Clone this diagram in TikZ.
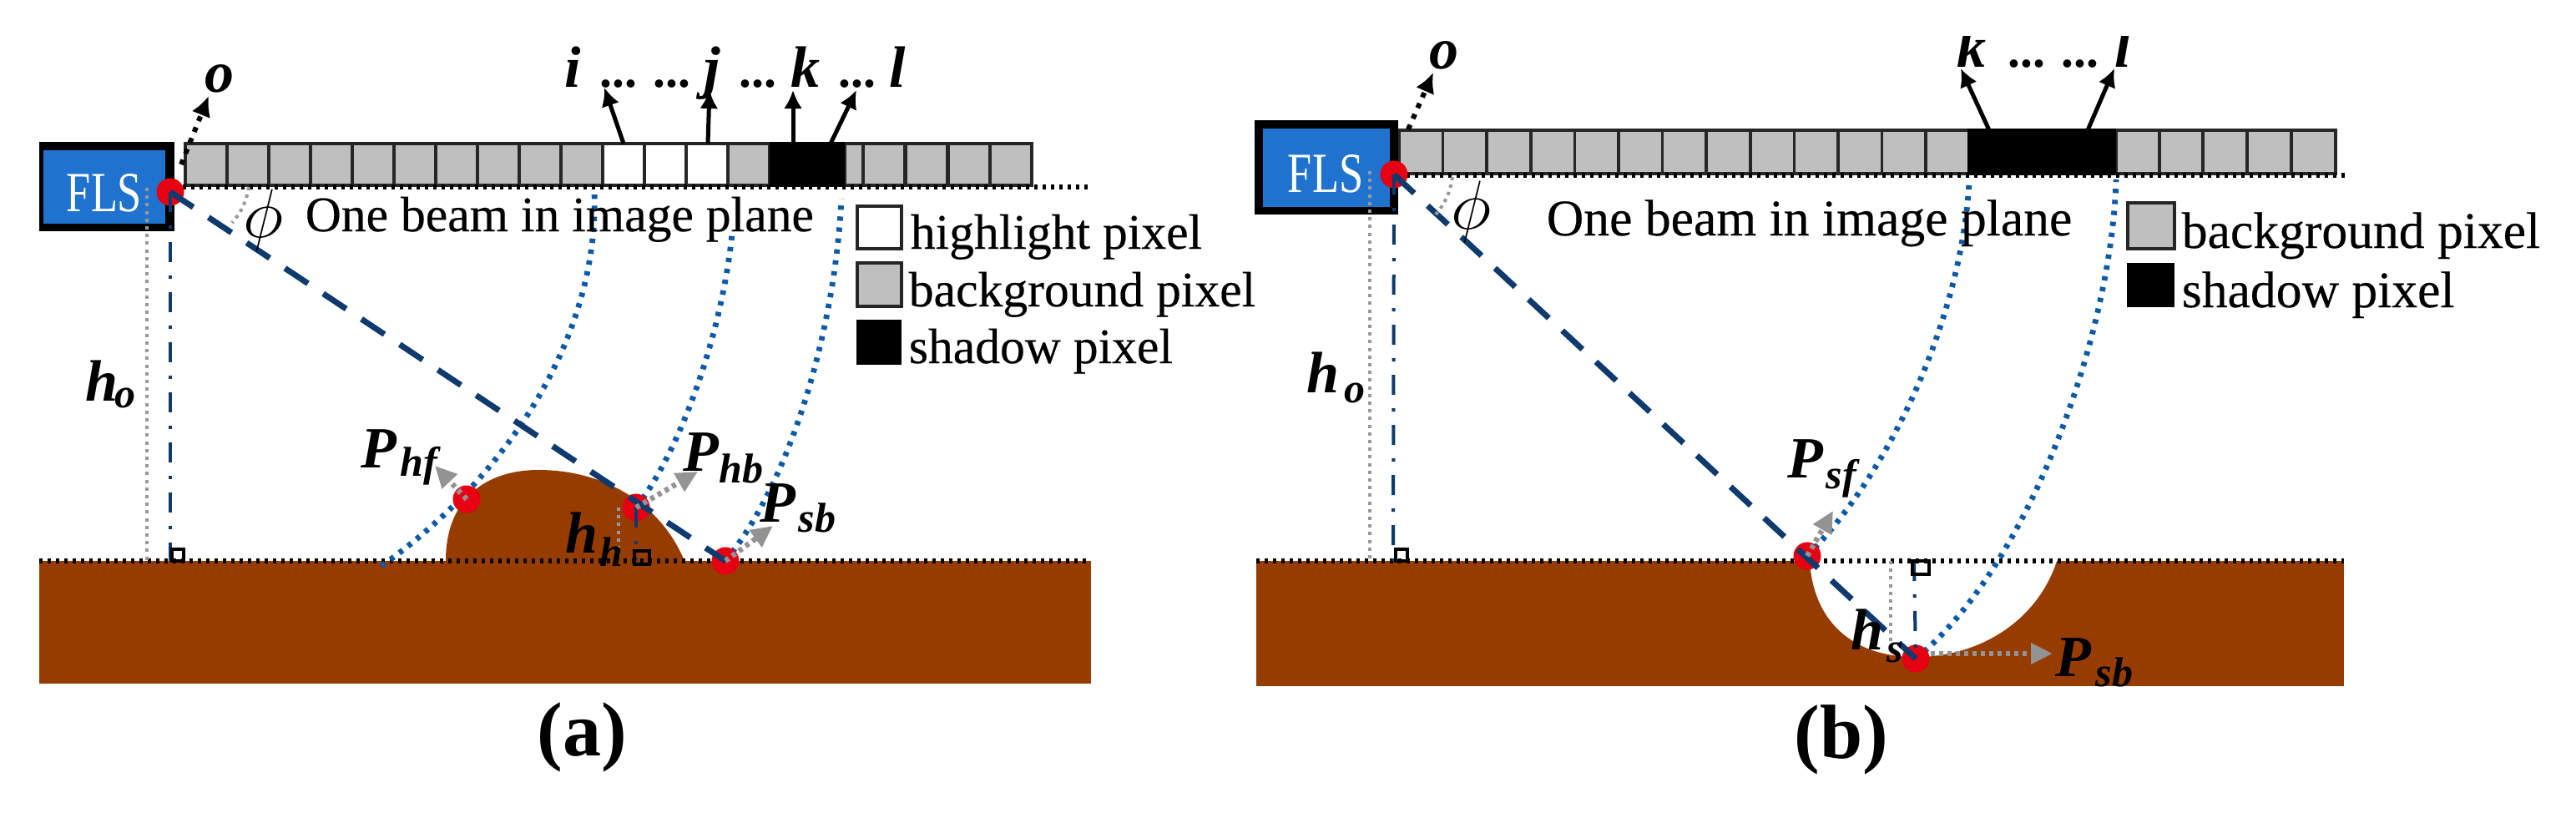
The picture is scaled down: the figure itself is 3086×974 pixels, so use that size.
\documentclass[tikz,border=0pt]{standalone}
\usepackage{amsmath,amssymb}
\usepackage{fontspec}
\setmainfont{Liberation Serif}
\newfontfamily\heavyfont[FakeBold=0.3]{Liberation Serif}
\usetikzlibrary{arrows.meta}

\definecolor{flsblue}{RGB}{31,114,206}
\definecolor{beamnavy}{RGB}{14,58,110}
\definecolor{rayblue}{RGB}{11,90,168}
\definecolor{soil}{RGB}{150,60,0}
\definecolor{pixgray}{RGB}{191,191,191}
\definecolor{markred}{RGB}{230,0,18}

\tikzset{
    pixelbox/.style={draw=black!85, line width=0.9pt},
    beamline/.style={color=beamnavy, line width=1.75pt, dash pattern=on 8.25pt off 5.5pt},
    dropline/.style={color=beamnavy, line width=1pt, dash pattern=on 6pt off 4pt on 1pt off 4pt},
    rayline/.style={color=rayblue, line width=1.7pt, dash pattern=on 1.3pt off 2pt},
    heightline/.style={color=gray!80, line width=1pt, dash pattern=on 1pt off 1.3pt},
    planeline/.style={color=black, line width=1.5pt, dash pattern=on 1pt off 1.5pt},
    pixarrow/.style={color=black, line width=1.25pt, -{Latex[length=5.5pt,width=5.5pt]}},
    axisarrow/.style={color=black, line width=1.5pt, dash pattern=on 1.5pt off 2pt, -{Latex[length=6pt,width=6pt]}},
    hitarrow/.style={color=gray!85, line width=1.6pt, dash pattern=on 1.25pt off 1.25pt, -{Triangle[length=6.5pt,width=6pt]}},
    plain/.style={anchor=base west, inner sep=0pt, font=\heavyfont\fontsize{14.9}{16}\selectfont},
    plainb/.style={plain, font=\heavyfont\fontsize{15.4}{17}\selectfont},
    symb/.style={anchor=base, inner sep=0pt, font=\fontsize{17.5}{19}\selectfont\bfseries\itshape},
    subsymb/.style={anchor=base, inner sep=0pt, font=\fontsize{12.5}{14}\selectfont\bfseries\itshape},
    caption/.style={anchor=base, inner sep=0pt, font=\fontsize{23}{25}\selectfont\bfseries},
    flstext/.style={inner sep=0pt, text=white, xscale=0.77, font=\fontsize{17}{19}\selectfont},
    dots/.style={anchor=base, inner sep=0pt, font=\fontsize{14.9}{16}\selectfont\bfseries},
    phisymb/.style={inner sep=0pt, font=\fontsize{20}{22}\selectfont},
}

\begin{document}
\begin{tikzpicture}[x=0.25pt, y=-0.25pt]
    \useasboundingbox (0,0) rectangle (3086,974);

    % ground, bump and hole
    \fill[soil] (47,672) rectangle (1307,819);
    \fill[soil] (534,672) .. controls (534,595) and (585,563) .. (645,563) .. controls (720,563) and (790,600) .. (820,672) -- cycle;
    \fill[soil] (1505,672) rectangle (2808,822);
    \fill[white] (2168,672) .. controls (2172,740) and (2215,787) .. (2295,787) .. controls (2370,787) and (2440,745) .. (2464,672) -- cycle;

    % left pixels
    \foreach \x in {222,272,...,672,872,1034,1085,1136,1186}
        \filldraw[pixelbox, fill=pixgray] (\x,172) rectangle +(50,50);
    \foreach \x in {722,772,822}
        \filldraw[pixelbox, fill=white] (\x,172) rectangle +(50,50);
    \filldraw[pixelbox, fill=pixgray] (1012,172) rectangle (1034,222);
    \fill[black] (922,170) rectangle (1012,224);
    % right pixels
    \foreach \n in {0,...,12}
        \filldraw[pixelbox, fill=pixgray] ({1676+52.6*\n},156) rectangle +(52.6,52);
    \foreach \x in {2535,2587,2639,2692,2745}
        \filldraw[pixelbox, fill=pixgray] (\x,156) rectangle +(53,52);
    \fill[black] (2357,154) rectangle (2535,210);

    \draw[planeline] (209,224) -- (1307,224);
    \draw[planeline] (1675,210) -- (2810,210);
    \draw[planeline] (47,672) -- (1307,672);
    \draw[planeline] (1505,672) -- (2808,672);

    % sonar boxes
    \fill[black] (47,170) rectangle (209,277);
    \fill[flsblue] (52,180) rectangle (198,268);
    \node[flstext] (flsa) at (125,231) {FLS};
    \fill[black] (1503,144) rectangle (1675,257);
    \fill[flsblue] (1513,154) rectangle (1665,248);
    \node[flstext] (flsb) at (1588,208) {FLS};

    \coordinate (oa) at (204,230);
    \coordinate (phf) at (559,598);
    \coordinate (phb) at (762,608);
    \coordinate (psba) at (869,672);
    \coordinate (ob) at (1670,209);
    \coordinate (psf) at (2165,666);
    \coordinate (psbb) at (2295,789);

    % rays from the pixels
    \draw[rayline] (457,678) .. controls (610,570) and (718,400) .. (712,230);
    \draw[rayline] (phb) .. controls (815,540) and (865,400) .. (877,280);
    \draw[rayline] (psba) .. controls (945,580) and (1000,400) .. (1008,238);
    \draw[rayline] (psf) .. controls (2265,565) and (2350,380) .. (2359,218);
    \draw[rayline] (psbb) .. controls (2430,680) and (2530,400) .. (2535,215);

    % drawing points
    \foreach \p in {oa,phf,phb,psba,ob,psf,psbb}
        \fill[markred] (\p) circle (16.5);

    % beams
    \draw[beamline] (oa) -- (psba);
    \draw[beamline] (ob) -- (psbb);

    % heights
    \coordinate (ga) at (204,672);
    \coordinate (gb) at (1669,672);
    \coordinate (gh) at (762,672);
    \coordinate (gs) at (2293,672);
    \draw[dropline] (oa) -- (ga);
    \draw[dropline] (ob) -- (gb);
    \draw[dropline] (phb) -- (gh);
    \draw[dropline] (gs) -- (psbb);
    \draw[heightline] (176,225) -- (176,672);
    \draw[heightline] (1641,205) -- (1641,672);
    \draw[heightline] (741,608) -- (741,672);
    \draw[heightline] (2265,672) -- (2265,780);
    \draw[color=black, line width=0.8pt] (206,658) rectangle (220,672);
    \draw[color=black, line width=0.8pt] (1672,658) rectangle (1686,672);
    \draw[color=black, line width=0.8pt] (760,660) rectangle (778,676);
    \draw[color=black, line width=0.8pt] (2291,672) rectangle (2311,688);

    % angle marks
    \draw[heightline] (298,224) to[bend left=15] (278,267);
    \draw[heightline] (1740,212) to[bend left=15] (1720,257);

    % arrows over the pixels
    \coordinate (ia) at (747,172);
    \coordinate (it) at (724,105);
    \coordinate (ja) at (848,172);
    \coordinate (jt) at (850,108);
    \coordinate (ka) at (950,172);
    \coordinate (kt) at (950,108);
    \coordinate (la) at (995,172);
    \coordinate (lt) at (1026,108);
    \draw[pixarrow] (ia) -- (it);
    \draw[pixarrow] (ja) -- (jt);
    \draw[pixarrow] (ka) -- (kt);
    \draw[pixarrow] (la) -- (lt);
    \coordinate (kb) at (2383,156);
    \coordinate (kc) at (2349,82);
    \coordinate (lb) at (2501,156);
    \coordinate (lc) at (2533,82);
    \draw[pixarrow] (kb) -- (kc);
    \draw[pixarrow] (lb) -- (lc);
    \coordinate (oat) at (250,115);
    \coordinate (obt) at (1717,87);
    \draw[axisarrow] (217,197) -- (oat);
    \draw[axisarrow] (1687,155) -- (obt);

    % arrows at the points
    \coordinate (phft) at (521,558);
    \coordinate (phbt) at (836,565);
    \coordinate (psat) at (926,630);
    \coordinate (psft) at (2196,612);
    \coordinate (psbt) at (2459,783);
    \draw[hitarrow] (phf) -- (phft);
    \draw[hitarrow] (phb) -- (phbt);
    \draw[hitarrow] (psba) -- (psat);
    \draw[hitarrow] (psf) -- (psft);
    \draw[hitarrow] (2313,783) -- (psbt);

    % symbols, left
    \node[symb] (olabela) at (263,110) {o};
    \node[symb] (ilabel) at (686,105) {i};
    \node[symb] (jlabel) at (853,105) {j};
    \node[symb] (klabel) at (965,105) {k};
    \node[symb] (llabel) at (1075,105) {l};
    \node[dots] (dotsij) at (773,105) {... ...};
    \node[dots] (dotsjk) at (908,105) {...};
    \node[dots] (dotskl) at (1027,105) {...};
    \node[phisymb] (phia) at (316,264) {$\phi$};
    \node[plain] (beama) at (365,277) {One beam in image plane};
    \node[symb] (hoa) at (122,480) {h};
    \node[subsymb] (hosuba) at (150,488) {o};
    \node[symb] (phfl) at (454,560) {P};
    \node[subsymb] (phfsub) at (502,570) {hf};
    \node[symb] (phbl) at (840,564) {P};
    \node[subsymb] (phbsub) at (888,578) {hb};
    \node[symb] (psal) at (932,625) {P};
    \node[subsymb] (psasub) at (979,637) {sb};
    \node[symb] (hhl) at (697,662) {h};
    \node[subsymb] (hhsub) at (732,678) {h};

    % symbols, right
    \node[symb] (olabelb) at (1730,82) {o};
    \node[symb] (klabelb) at (2362,80) {k};
    \node[symb] (llabelb) at (2543,80) {l};
    \node[dots] (dotskb) at (2460,80) {... ...};
    \fill[white] (2330,0) rectangle (2570,43);
    \node[phisymb] (phib) at (1763,254) {$\phi$};
    \node[plainb] (beamb) at (1852,282) {One beam in image plane};
    \node[symb] (hob) at (1585,470) {h};
    \node[subsymb] (hosubb) at (1623,482) {o};
    \node[symb] (psfl) at (2163,572) {P};
    \node[subsymb] (psfsub) at (2206,585) {sf};
    \node[symb] (hsl) at (2237,778) {h};
    \node[subsymb] (hssub) at (2270,793) {s};
    \node[symb] (psbl) at (2484,810) {P};
    \node[subsymb] (psbsub) at (2533,822) {sb};

    % legends
    \filldraw[pixelbox, fill=white] (1027,247) rectangle (1080,298);
    \filldraw[pixelbox, fill=pixgray] (1027,315) rectangle (1080,367);
    \fill[black] (1026,383) rectangle (1080,437);
    \node[plain] (legha) at (1090,298) {highlight pixel};
    \node[plain] (legba) at (1088,367) {background pixel};
    \node[plain] (legsa) at (1088,435) {shadow pixel};
    \filldraw[pixelbox, fill=pixgray] (2549,243) rectangle (2605,298);
    \fill[black] (2548,315) rectangle (2605,368);
    \node[plainb] (legbb) at (2613,297) {background pixel};
    \node[plainb] (legsb) at (2613,368) {shadow pixel};

    % captions
    \node[caption] (capa) at (697,905) {(a)};
    \node[caption] (capb) at (2206,908) {(b)};
\end{tikzpicture}
\end{document}
